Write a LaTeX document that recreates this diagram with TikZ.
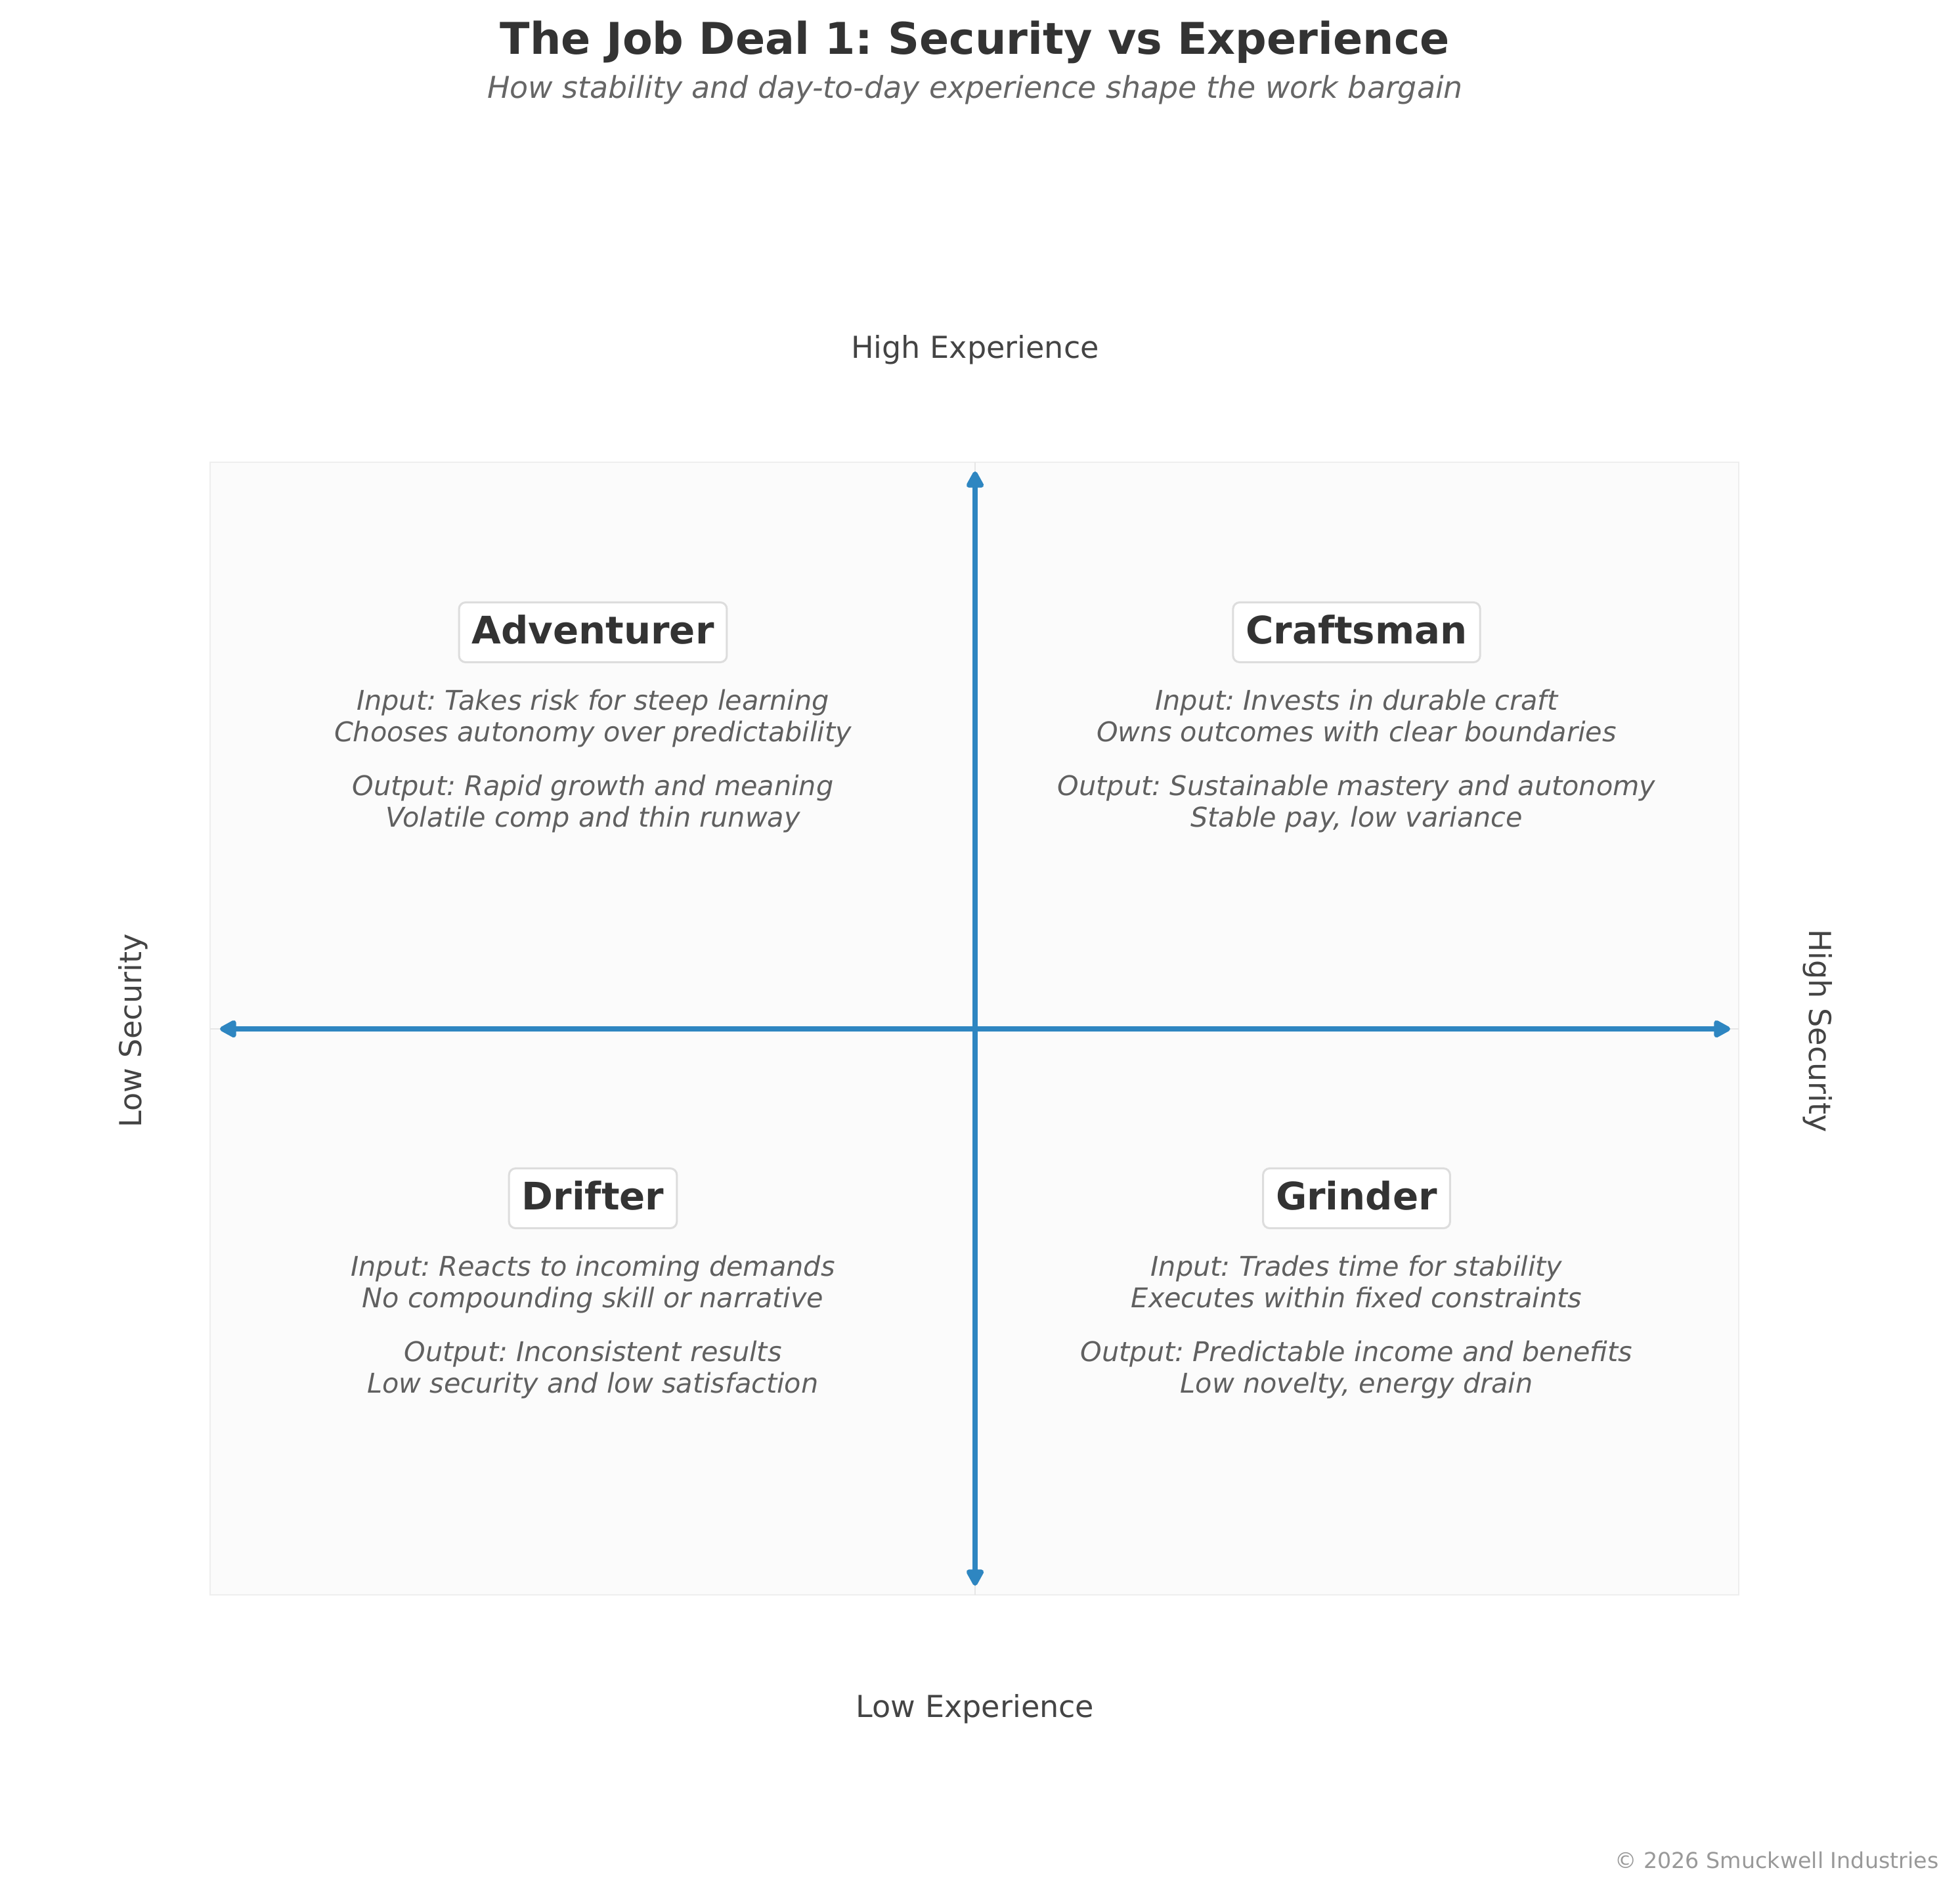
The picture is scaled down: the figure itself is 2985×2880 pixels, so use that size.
\documentclass[tikz,border=0pt]{standalone}
\usepackage{xcolor}
\usepackage{fontspec}
\setmainfont{DejaVu Sans}
\frenchspacing
\usetikzlibrary{arrows.meta}

\definecolor{inkdark}{HTML}{333333}
\definecolor{inksub}{HTML}{666666}
\definecolor{inknote}{HTML}{606060}
\definecolor{inkaxis}{HTML}{444444}
\definecolor{inkfaint}{HTML}{999999}
\definecolor{panelfill}{HTML}{FBFBFB}
\definecolor{panelline}{HTML}{EEEEEE}
\definecolor{gridline}{HTML}{E6E6E6}
\definecolor{boxedge}{HTML}{DDDDDD}
\definecolor{axisblue}{HTML}{2E86C1}

\tikzset{
  quadtitle/.style={draw=boxedge, fill=white, line width=1.1pt, rounded corners=3.6pt,
    inner xsep=7pt, inner ysep=0pt, minimum height=32.8pt, text height=15.8pt, text depth=2.9pt,
    text=inkdark, font=\fontsize{20.8}{25}\selectfont\bfseries},
  quadnote/.style={anchor=base, align=center, inner sep=0pt, text=inknote,
    font=\fontsize{14.9}{17.1}\selectfont\itshape},
  axisname/.style={anchor=base, inner sep=0pt, text=inkaxis, font=\fontsize{16.6}{20}\selectfont},
  axisarrow/.style={draw=axisblue, line width=2.9pt,
    {Triangle[round,length=10.5pt,width=10.5pt]}-{Triangle[round,length=10.5pt,width=10.5pt]}}
}

\begin{document}
\begin{tikzpicture}[x=0.36pt, y=-0.36pt]
  \useasboundingbox (0,0) rectangle (2985,2880);
  \fill[white] (0,0) rectangle (2985,2880);

  \node[anchor=base, inner sep=0pt, text=inkdark, font=\fontsize{24}{28}\selectfont\bfseries]
    (title) at (1485,82) {The Job Deal 1: Security vs Experience};
  \node[anchor=base, inner sep=0pt, text=inksub, font=\fontsize{16.5}{19}\selectfont\itshape]
    (subtitle) at (1485,149) {How stability and day-to-day experience shape the work bargain};

  \draw[draw=panelline, fill=panelfill, line width=0.7pt] (320,704) rectangle (2648,2429);
  \draw[draw=gridline, line width=0.7pt] (320,1567) -- (2648,1567) (1485,704) -- (1485,2429);

  \node[axisname] (hiexp) at (1485,545) {High Experience};
  \node[axisname] (loexp) at (1485,2615) {Low Experience};
  \node[axisname, rotate=90] (losec) at (215,1570) {Low Security};
  \node[axisname, rotate=-90] (hisec) at (2755,1570) {High Security};

  \coordinate (leftend) at (335,1567);
  \coordinate (rightend) at (2635,1567);
  \coordinate (topend) at (1485,718);
  \coordinate (bottomend) at (1485,2415);
  \draw[axisarrow] (leftend) -- (rightend);
  \draw[axisarrow] (bottomend) -- (topend);

  \node[quadtitle] (adv) at (903,963) {Adventurer};
  \node[quadnote] (adv-in) at (903,1129) {Input: Takes risk for steep learning\\Chooses autonomy over predictability};
  \node[quadnote] (adv-out) at (903,1259) {Output: Rapid growth and meaning\\Volatile comp and thin runway};

  \node[quadtitle] (craft) at (2066,963) {Craftsman};
  \node[quadnote] (craft-in) at (2066,1129) {Input: Invests in durable craft\\Owns outcomes with clear boundaries};
  \node[quadnote] (craft-out) at (2066,1259) {Output: Sustainable mastery and autonomy\\Stable pay, low variance};

  \node[quadtitle] (drift) at (903,1825) {Drifter};
  \node[quadnote] (drift-in) at (903,1991) {Input: Reacts to incoming demands\\No compounding skill or narrative};
  \node[quadnote] (drift-out) at (903,2121) {Output: Inconsistent results\\Low security and low satisfaction};

  \node[quadtitle] (grind) at (2066,1825) {Grinder};
  \node[quadnote] (grind-in) at (2066,1991) {Input: Trades time for stability\\Executes within fixed constraints};
  \node[quadnote] (grind-out) at (2066,2121) {Output: Predictable income and benefits\\Low novelty, energy drain};

  \node[anchor=base east, inner sep=0pt, text=inkfaint, font=\fontsize{12}{14}\selectfont]
    (credit) at (2953,2845) {© 2026 Smuckwell Industries};
\end{tikzpicture}
\end{document}
